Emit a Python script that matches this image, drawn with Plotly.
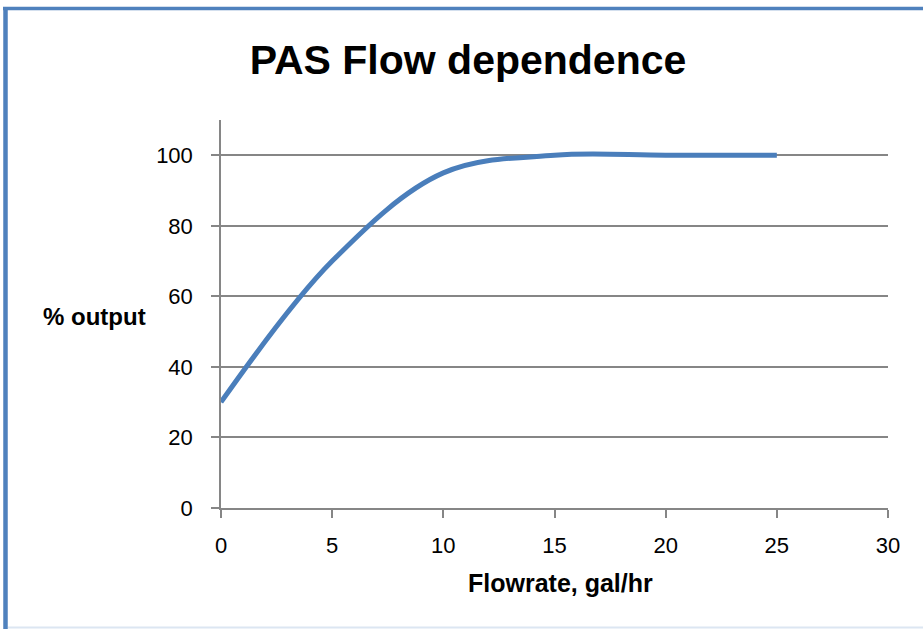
import plotly.graph_objects as go

flowrate = [0, 5, 10, 15, 20, 25]
output_pct = [30, 70, 95, 100, 100, 100]
x_ticks = [0, 5, 10, 15, 20, 25, 30]
y_ticks = [0, 20, 40, 60, 80, 100]

W, H = 923, 629
L, R, T, B = 221, 35, 120, 121
pw, ph = W - L - R, H - T - B

def px(xpix):
    return (xpix - L) / pw

def py(ypix):
    return (H - B - ypix) / ph

FONT = "Liberation Sans"
GRID = "#868686"

fig = go.Figure()
fig.add_trace(go.Scatter(
    x=flowrate, y=output_pct, mode="lines",
    line=dict(color="#4A7EBB", width=5, shape="spline", smoothing=1),
    showlegend=False, hoverinfo="skip",
))

fig.update_layout(
    width=W, height=H,
    margin=dict(l=L, r=R, t=T, b=B),
    paper_bgcolor="white", plot_bgcolor="white",
    title=dict(text="<b>PAS Flow dependence</b>", x=468 / W, xanchor="center",
               y=1 - 60 / H, yanchor="middle",
               font=dict(family=FONT, size=41, color="black")),
    xaxis=dict(range=[0, 30], tickvals=x_ticks, ticktext=[str(v) for v in x_ticks],
               showgrid=False, zeroline=False, showline=True, linecolor=GRID, linewidth=1.5,
               ticks="outside", ticklen=8, tickcolor=GRID, tickwidth=1.5,
               ticklabelstandoff=9,
               tickfont=dict(family=FONT, size=22, color="black")),
    yaxis=dict(range=[0, 110], tickvals=y_ticks, ticktext=[str(v) for v in y_ticks],
               showgrid=True, gridcolor=GRID, gridwidth=1.5, zeroline=False,
               showline=True, linecolor=GRID, linewidth=1.5,
               ticks="outside", ticklen=8, tickcolor=GRID, tickwidth=1.5,
               ticklabelstandoff=14,
               tickfont=dict(family=FONT, size=22, color="black")),
    annotations=[
        dict(text="<b>% output</b>", xref="paper", yref="paper", x=px(94), y=py(316),
             xanchor="center", yanchor="middle", showarrow=False,
             font=dict(family=FONT, size=24, color="black")),
        dict(text="<b>Flowrate, gal/hr</b>", xref="paper", yref="paper", x=px(560), y=py(583),
             xanchor="center", yanchor="middle", showarrow=False,
             font=dict(family=FONT, size=25, color="black")),
    ],
    shapes=[
        dict(type="line", xref="paper", yref="paper", x0=px(3), x1=px(W + 5), y0=py(8.5), y1=py(8.5),
             line=dict(color="#4F81BD", width=3.5)),
        dict(type="line", xref="paper", yref="paper", x0=px(5.5), x1=px(5.5), y0=py(7), y1=py(H + 5),
             line=dict(color="#4F81BD", width=4.5)),
        dict(type="line", xref="paper", yref="paper", x0=px(8), x1=px(W + 5), y0=py(627.5), y1=py(627.5),
             line=dict(color="#DCE6F2", width=2)),
    ],
)

fig.write_html("out.html", config={"displayModeBar": False},
               post_script="document.body.style.margin='0px';")
